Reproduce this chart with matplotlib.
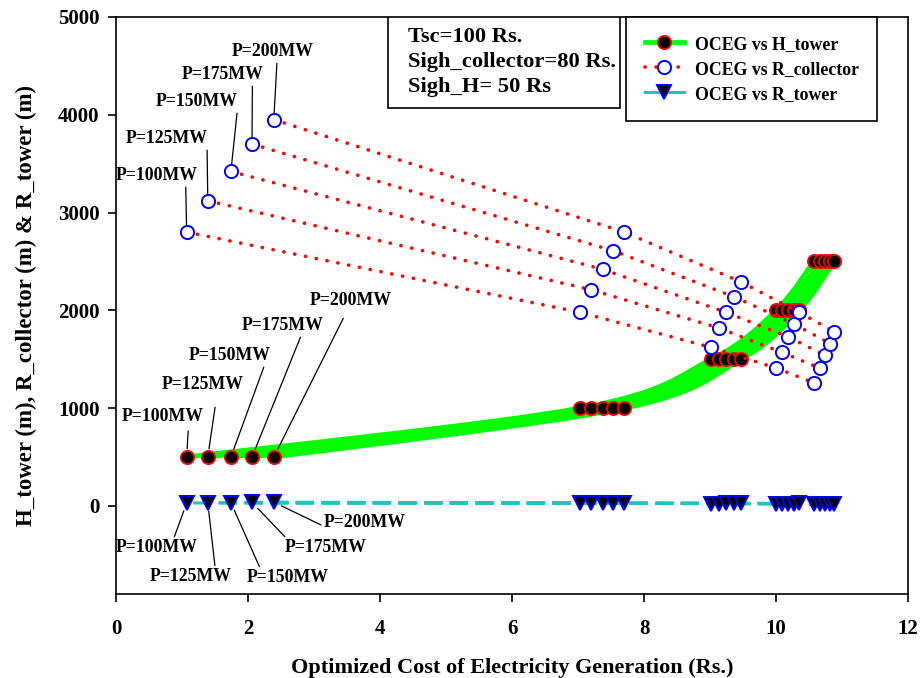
import numpy as np
import matplotlib
matplotlib.use('Agg')
from matplotlib import pyplot as plt
from matplotlib.path import Path
from matplotlib.patches import PathPatch, Rectangle
from matplotlib.lines import Line2D

plt.rcParams['font.family'] = ['Liberation Serif', 'DejaVu Serif']
plt.rcParams['font.weight'] = 'bold'

# data: one row per plant size, one column per tower height step
powers = ['P=100MW', 'P=125MW', 'P=150MW', 'P=175MW', 'P=200MW']
h_tower = [500, 1000, 1500, 2000, 2500]

oceg = [
    [1.07, 7.03, 9.02, 10.00, 10.57],
    [1.39, 7.20, 9.13, 10.09, 10.66],
    [1.74, 7.37, 9.24, 10.18, 10.74],
    [2.06, 7.53, 9.36, 10.27, 10.82],
    [2.39, 7.70, 9.47, 10.35, 10.88],
]
r_collector = [
    [2800, 1980, 1620, 1410, 1260],
    [3120, 2210, 1820, 1570, 1410],
    [3420, 2420, 1980, 1730, 1540],
    [3700, 2610, 2140, 1860, 1660],
    [3950, 2800, 2290, 1980, 1780],
]
r_tower = [
    [30, 26, 23, 21, 19],
    [32, 27, 24, 22, 20],
    [34, 28, 25, 23, 21],
    [36, 29, 26, 24, 22],
    [38, 30, 27, 25, 23],
]

green = '#00ff00'
cyan = '#1fc3c3'


def smooth_path(xs, ys):
    # bezier path through the measured points (catmull-rom style handles)
    pts = np.column_stack([xs, ys]).astype(float)
    n = len(pts)
    verts, codes = [pts[0]], [Path.MOVETO]
    for i in range(n - 1):
        p0 = pts[i - 1] if i > 0 else pts[i]
        p1, p2 = pts[i], pts[i + 1]
        p3 = pts[i + 2] if i + 2 < n else pts[i + 1]
        verts += [p1 + (p2 - p0) / 6, p2 - (p3 - p1) / 6, p2]
        codes += [Path.CURVE4] * 3
    return Path(verts, codes)


fig = plt.figure(figsize=(9.21, 6.78), dpi=100)
ax = fig.add_axes([0.126, 0.124, 0.860, 0.851])

# H_tower curves
for i in range(len(powers)):
    ax.add_patch(PathPatch(smooth_path(oceg[i], h_tower), facecolor='none',
                           edgecolor=green, lw=3.5, zorder=2))
for i in range(len(powers)):
    ax.plot(oceg[i], h_tower, ls='none', marker='o', ms=9.5, mfc='black',
            mec='red', mew=1.3, zorder=3)

# R_collector lines
for i in range(len(powers)):
    ax.plot(oceg[i], r_collector[i], color='red', lw=2.6, ls=(0, (0.05, 3.0)),
            dash_capstyle='round', zorder=4)
for i in range(len(powers)):
    ax.plot(oceg[i], r_collector[i], ls='none', marker='o', ms=9.5, mfc='white',
            mec='blue', mew=1.4, zorder=5)

# R_tower lines, dash phase kept in step so the overlapping lines read as one dashed line
cy_lw, cy_on, cy_off = 2.2, 6.0, 2.4
px_per_unit = 0.860 * 9.21 * 72 / 12  # points per x unit
for i in range(len(powers)):
    start_pts = oceg[i][0] * px_per_unit / cy_lw
    phase = start_pts % (cy_on + cy_off)
    ax.plot(oceg[i], r_tower[i], color=cyan, lw=cy_lw,
            ls=(phase, (cy_on, cy_off)), zorder=4)
for i in range(len(powers)):
    ax.plot(oceg[i], r_tower[i], ls='none', marker='v', ms=10, mfc='black',
            mec='blue', mew=1.4, zorder=5)

ax.set_xlim(0, 12)
ax.set_ylim(-900, 5000)
ax.set_xticks([0, 2, 4, 6, 8, 10, 12])
ax.set_yticks([0, 1000, 2000, 3000, 4000, 5000])
ax.tick_params(axis='both', direction='out', length=6, width=1.2, labelsize=15,
               top=False, right=False)
ax.tick_params(axis='x', pad=12)
ax.tick_params(axis='y', pad=6)
for lab in ax.get_xticklabels() + ax.get_yticklabels():
    lab.set_fontweight('bold')
for sp in ax.spines.values():
    sp.set_linewidth(1.2)

ax.set_xlabel('Optimized Cost of Electricity Generation (Rs.)', fontsize=16,
              fontweight='bold', labelpad=14)
ax.set_ylabel('H_tower (m), R_collector (m) & R_tower (m)', fontsize=16.5,
              fontweight='bold', labelpad=15)

# annotation labels
lab_kw = dict(fontsize=12.8, fontweight='bold', ha='center', va='center',
              textcoords='data', xycoords='data')

top_text = [(0.62, 3374), (0.77, 3753), (1.23, 4131), (1.62, 4407), (2.38, 4642)]
top_rel = [(0.85, 0.1), (0.99, 0.1), (0.99, 0.05), (0.86, 0.4), (0.55, 0.2)]
for i, p in enumerate(powers):
    ax.annotate(p, xy=(oceg[i][0], r_collector[i][0]), xytext=top_text[i],
                arrowprops=dict(arrowstyle='-', lw=0.9, color='black',
                                shrinkA=0, shrinkB=5, relpos=top_rel[i]),
                **lab_kw)

mid_text = [(0.70, 910), (1.32, 1237), (1.72, 1534), (2.53, 1840), (3.56, 2096)]
mid_rel = [(0.82, 0.0), (0.67, 0.0), (0.96, 0.4), (0.76, 0.4), (0.46, 0.0)]
mid_shrink = [2, 8, 0, 0, 5]
for i, p in enumerate(powers):
    ax.annotate(p, xy=(oceg[i][0], h_tower[0]), xytext=mid_text[i],
                arrowprops=dict(arrowstyle='-', lw=0.9, color='black',
                                shrinkA=mid_shrink[i], shrinkB=6,
                                relpos=mid_rel[i]),
                **lab_kw)

bot_text = [(0.62, -430), (1.13, -726), (2.60, -736), (3.18, -430), (3.77, -174)]
bot_rel = [(0.70, 1.0), (0.80, 1.0), (0.17, 1.0), (0.07, 0.8), (0.0, 0.3)]
for i, p in enumerate(powers):
    ax.annotate(p, xy=(oceg[i][0], r_tower[i][0]), xytext=bot_text[i],
                arrowprops=dict(arrowstyle='-', lw=0.9, color='black',
                                shrinkA=0, shrinkB=6, relpos=bot_rel[i]),
                **lab_kw)

# parameter box
ax.add_patch(Rectangle((0.343, 0.842), 0.293, 0.158, transform=ax.transAxes,
                       facecolor='white', edgecolor='black', lw=1.2, zorder=6))
box_lines = ['Tsc=100 Rs.', 'Sigh_collector=80 Rs.', 'Sigh_H= 50 Rs']
for j, t in enumerate(box_lines):
    ax.text(0.369, 0.9653 - j * 0.0433, t, transform=ax.transAxes, fontsize=16.2,
            fontweight='bold', va='center', ha='left', zorder=7)

handles = [
    Line2D([], [], color=green, lw=3.4, marker='o', ms=9.5, mfc='black',
           mec='red', mew=1.3),
    Line2D([], [], color='red', lw=2.6, ls=(0, (0.05, 3.0)), dash_capstyle='round',
           marker='o', ms=9.5, mfc='white', mec='blue', mew=1.4),
    Line2D([], [], color=cyan, lw=2.2, marker='v', ms=10, mfc='black',
           mec='blue', mew=1.4),
]
leg = ax.legend(handles, ['OCEG vs H_tower', 'OCEG vs R_collector', 'OCEG vs R_tower'],
                loc='upper right', bbox_to_anchor=(0.961, 1.0), borderaxespad=0,
                fancybox=False, framealpha=1, edgecolor='black',
                handlelength=2.2, handletextpad=0.6, borderpad=1.05,
                labelspacing=0.45, prop={'weight': 'bold', 'size': 12.8})
leg.get_frame().set_linewidth(1.2)
leg.set_zorder(8)

fig.savefig('out.png', dpi=100)
